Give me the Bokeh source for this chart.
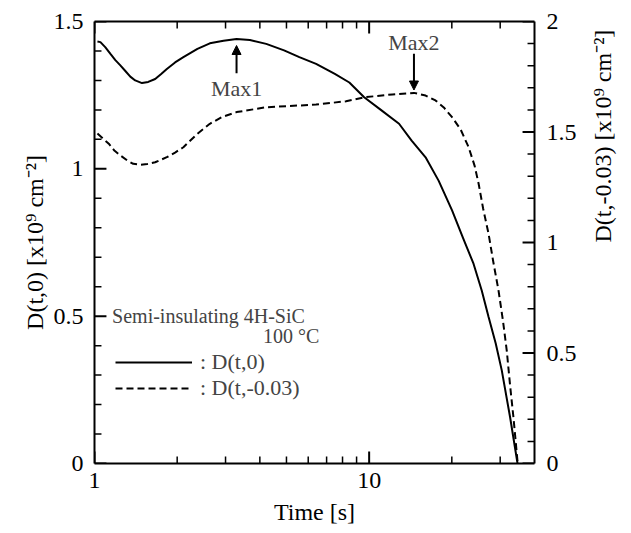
import math
from bokeh.plotting import figure
from bokeh.models import (LinearAxis, LogAxis, Range1d, FixedTicker, Arrow,
                          NormalHead, Label, Legend, LegendItem)
from bokeh.embed import file_html
from bokeh.resources import INLINE

# ---- data ----
t_solid = [1.025, 1.051, 1.096, 1.143, 1.191, 1.242, 1.295, 1.350, 1.407, 1.489,
           1.569, 1.663, 1.749, 1.834, 1.965, 2.107, 2.37, 2.63, 2.95, 3.29,
           3.68, 4.22, 4.90, 5.57, 6.41, 7.50, 8.47, 9.59, 11.0, 12.85,
           14.28, 16.05, 17.9, 20.04, 22.0, 23.99, 25.7, 27.22, 28.9, 30.4,
           32.6, 34.7]
d_solid = [1.432, 1.430, 1.412, 1.390, 1.369, 1.351, 1.332, 1.313, 1.300, 1.291,
           1.295, 1.305, 1.322, 1.339, 1.361, 1.379, 1.407, 1.426, 1.435, 1.441,
           1.437, 1.424, 1.402, 1.379, 1.356, 1.322, 1.293, 1.243, 1.201, 1.153,
           1.096, 1.039, 0.960, 0.859, 0.764, 0.678, 0.587, 0.497, 0.407, 0.316,
           0.157, 0.0]

t_dash = [1.025, 1.127, 1.181, 1.242, 1.317, 1.384, 1.468, 1.556, 1.663, 1.834,
          1.965, 2.107, 2.37, 2.63, 2.91, 3.29, 4.22, 6.41, 8.24, 9.59,
          12.15, 14.56, 16.05, 17.44, 18.7, 20.04, 21.54, 23.03, 24.2, 25.04,
          26.0, 27.22, 28.3, 29.58, 30.7, 31.7, 32.6, 33.52, 34.75]
d_dash = [1.493, 1.447, 1.416, 1.394, 1.371, 1.356, 1.352, 1.355, 1.363, 1.386,
          1.407, 1.431, 1.492, 1.537, 1.568, 1.590, 1.612, 1.624, 1.639, 1.657,
          1.670, 1.677, 1.665, 1.643, 1.611, 1.567, 1.511, 1.431, 1.348, 1.266,
          1.154, 1.039, 0.914, 0.783, 0.647, 0.511, 0.353, 0.21, 0.0]

x_ticks = [1, 10]
x_tick_labels = ["1", "10"]
x_minor = [2, 3, 4, 5, 6, 7, 8, 9, 20, 30]

left_ticks = [0, 0.5, 1, 1.5]
left_labels = ["0", "0.5", "1", "1.5"]
left_minor = [0.1, 0.2, 0.3, 0.4, 0.6, 0.7, 0.8, 0.9, 1.1, 1.2, 1.3, 1.4]

right_ticks = [0, 0.5, 1, 1.5, 2]
right_labels = ["0", "0.5", "1", "1.5", "2"]
right_minor = [0.1, 0.2, 0.3, 0.4, 0.6, 0.7, 0.8, 0.9, 1.1, 1.2, 1.3, 1.4,
               1.6, 1.7, 1.8, 1.9]

x_title = "Time [s]"
left_title = "D(t,0) [x10\u2079 cm\u207b\u00b2]"
right_title = "D(t,-0.03)  [x10\u2079 cm\u207b\u00b2]"
legend_labels = [": D(t,0)", ": D(t,-0.03)"]
note_sample = "Semi-insulating 4H-SiC"
note_temp = "100 \u00b0C"

FONT = "Liberation Serif"
X0, X1 = 1, 40
YL0, YL1 = 0, 1.5
YR0, YR1 = 0, 2

FW = 442  # frame size in px
p = figure(x_axis_type="log", x_range=Range1d(X0, X1), y_range=Range1d(YL0, YL1),
           width=631, height=533,
           min_border_left=94, min_border_right=95, min_border_top=21,
           min_border_bottom=70,
           output_backend="svg", toolbar_location=None,
           x_axis_label=x_title, y_axis_label=left_title)
p.extra_y_ranges = {"right": Range1d(YR0, YR1)}
p.grid.visible = False
p.outline_line_color = None
p.background_fill_color = "white"
p.border_fill_color = "white"


def style(ax, ticks, labels, size="24px"):
    ax.ticker = FixedTicker(ticks=ticks)
    ax.major_label_overrides = dict(zip(ticks, labels))
    ax.major_tick_in = 0
    ax.major_tick_out = 0
    ax.minor_tick_in = 0
    ax.minor_tick_out = 0
    ax.axis_line_width = 2
    ax.axis_line_color = "black"
    ax.major_label_text_font = FONT
    ax.major_label_text_color = "black"
    ax.major_label_text_font_size = size
    ax.axis_label_text_font = FONT
    ax.axis_label_text_font_style = "normal"
    ax.axis_label_text_font_size = "24px"
    ax.axis_label_text_color = "black"


xa = p.xaxis[0]
style(xa, x_ticks, x_tick_labels)
xa.major_label_standoff = 9
xa.axis_label_standoff = 8

ya = p.yaxis[0]
style(ya, left_ticks, left_labels)
ya.major_label_standoff = 11
ya.axis_label_standoff = 3

top = LogAxis()
style(top, x_ticks, ["", ""], size="0px")
top.major_label_standoff = 0
p.add_layout(top, "above")

ra = LinearAxis(y_range_name="right")
style(ra, right_ticks, right_labels)
ra.major_label_standoff = 12
p.add_layout(ra, "right")
if "axis_label_orientation" in ra.properties():
    ra.axis_label = right_title
    ra.axis_label_orientation = math.pi / 2
    ra.axis_label_standoff = 23
else:
    p.add_layout(Label(x=X1 * 10 ** ((73 / FW) * math.log10(X1 / X0)), y=(YR0 + YR1) / 2,
                       y_range_name="right", text=right_title, angle=math.pi / 2,
                       text_align="center", text_baseline="middle",
                       text_font=FONT, text_font_size="24px"))

# inward tick marks drawn as short segments inside the frame
MAJ, MIN = 12, 7  # tick lengths in px
dlx = math.log10(X1 / X0) / FW
dyl = (YL1 - YL0) / FW


def xticks(vals, length, lw):
    n = len(vals)
    p.segment(x0=vals, x1=vals, y0=[YL0] * n, y1=[YL0 + length * dyl] * n,
              line_width=lw, line_color="black")
    p.segment(x0=vals, x1=vals, y0=[YL1] * n, y1=[YL1 - length * dyl] * n,
              line_width=lw, line_color="black")


xticks(x_ticks, MAJ, 2)
xticks(x_minor, MIN, 1.5)
for vals, length, lw in ((left_ticks, MAJ, 2), (left_minor, MIN, 1.5)):
    n = len(vals)
    p.segment(x0=[X0] * n, x1=[X0 * 10 ** (length * dlx)] * n, y0=vals, y1=vals,
              line_width=lw, line_color="black")
for vals, length, lw in ((right_ticks, MAJ, 2), (right_minor, MIN, 1.5)):
    n = len(vals)
    p.segment(x0=[X1] * n, x1=[X1 / 10 ** (length * dlx)] * n, y0=vals, y1=vals,
              line_width=lw, line_color="black", y_range_name="right")

r1 = p.line(t_solid, d_solid, line_width=2, line_color="black")
r2 = p.line(t_dash, d_dash, line_width=2, line_color="black",
            line_dash="7 4", y_range_name="right")

# Max annotations at the maxima of each curve
i1 = d_solid.index(max(d_solid))
i2 = d_dash.index(max(d_dash))
p.add_layout(Arrow(x_start=t_solid[i1], y_start=1.3245, x_end=t_solid[i1], y_end=1.4185,
                   line_width=2, line_color="black",
                   end=NormalHead(size=9, fill_color="black", line_color="black")))
p.add_layout(Label(x=t_solid[i1], y=1.274, text="Max1", text_align="center",
                   text_baseline="middle", text_font=FONT, text_font_size="22px"))
p.add_layout(Arrow(x_start=t_dash[i2], y_start=1.854, x_end=t_dash[i2], y_end=1.69,
                   y_range_name="right", line_width=2, line_color="black",
                   end=NormalHead(size=9, fill_color="black", line_color="black")))
p.add_layout(Label(x=t_dash[i2], y=1.906, y_range_name="right", text="Max2",
                   text_align="center", text_baseline="middle",
                   text_font=FONT, text_font_size="22px"))

p.add_layout(Label(x=1.159, y=0.502, text=note_sample, text_align="left",
                   text_baseline="middle", text_font=FONT, text_font_size="20px"))
p.add_layout(Label(x=6.59, y=0.434, text=note_temp, text_align="right",
                   text_baseline="middle", text_font=FONT, text_font_size="20px"))

legend = Legend(items=[LegendItem(label=legend_labels[0], renderers=[r1]),
                       LegendItem(label=legend_labels[1], renderers=[r2])],
                location=(21, 62), glyph_width=77, glyph_height=26,
                label_height=26, label_standoff=8, spacing=0, padding=0,
                margin=0, border_line_color=None, background_fill_alpha=0,
                label_text_font=FONT, label_text_font_size="22px")
p.add_layout(legend)

open("out.html", "w").write(file_html(p, INLINE))
